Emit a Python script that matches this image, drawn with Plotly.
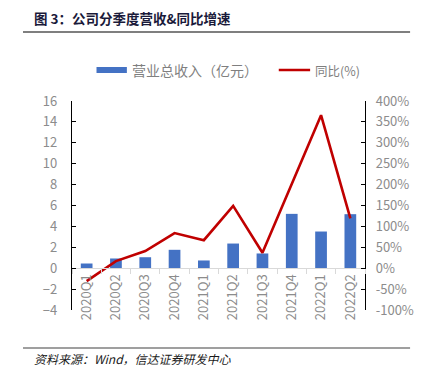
import plotly.graph_objects as go

categories = ["2020Q1", "2020Q2", "2020Q3", "2020Q4", "2021Q1", "2021Q2",
              "2021Q3", "2021Q4", "2022Q1", "2022Q2"]
revenue = [0.45, 0.93, 1.05, 1.76, 0.74, 2.36, 1.41, 5.2, 3.51, 5.17]
yoy = [-31, 17, 41, 84, 67, 149, 37, 201, 366, 119]

left_ticks = list(range(-4, 17, 2))
right_ticks = list(range(-100, 401, 50))

# page has an 8px body margin; size the figure so it ends at the window edge
OFF = 8
W, H = 426 - OFF, 377 - OFF
L, R, T, B = 72 - OFF, 371 - OFF, 101 - OFF, 310 - OFF


def px(x):
    return (x - OFF - L) / (R - L)


def py(y):
    return (B - (y - OFF)) / (B - T)


num_font = "Liberation Sans Narrow, Arial Narrow, Noto Sans CJK SC, sans-serif"
cjk_font = "Noto Sans CJK SC, sans-serif"

fig = go.Figure()
fig.add_trace(go.Bar(x=categories, y=revenue, name="营业总收入（亿元）",
                     marker=dict(color="#4472C4", line=dict(width=0)),
                     yaxis="y"))
fig.add_trace(go.Scatter(x=categories, y=yoy, name="同比(%)", mode="lines",
                         line=dict(color="#C00000", width=2.6),
                         yaxis="y2"))

zero_pos = (0 - left_ticks[0]) / (left_ticks[-1] - left_ticks[0])

fig.update_layout(
    width=W, height=H,
    margin=dict(l=L, r=W - R, t=T, b=H - B, pad=0),
    paper_bgcolor="white", plot_bgcolor="white",
    showlegend=False,
    bargap=0.6,
    xaxis=dict(type="category", anchor="free", position=zero_pos,
               showline=True, linecolor="#d9d9d9", linewidth=1,
               ticks="outside", tickson="boundaries", ticklen=5,
               tickcolor="#d9d9d9", tickangle=-90,
               tickfont=dict(family=num_font, size=13, color="#8c8c8c"),
               showgrid=False, zeroline=False),
    yaxis=dict(range=[-4, 16], tickvals=left_ticks, showline=True,
               linecolor="black", linewidth=1.2, ticks="inside", ticklen=4,
               tickcolor="black", showgrid=False, zeroline=False,
               ticklabelstandoff=11,
               tickfont=dict(family=num_font, size=13, color="#8c8c8c")),
    yaxis2=dict(range=[-100, 400], tickvals=right_ticks,
                ticktext=[f"{v}%" for v in right_ticks],
                overlaying="y", side="right", showline=True,
                linecolor="black", linewidth=1.2, ticks="inside", ticklen=4,
                tickcolor="black", showgrid=False, zeroline=False,
                ticklabelstandoff=7,
                tickfont=dict(family=num_font, size=13, color="#8c8c8c")),
)

shapes = [
    dict(type="line", xref="paper", yref="paper", x0=px(22), x1=px(417),
         y0=py(32), y1=py(32), line=dict(color="#7f7f7f", width=2)),
    dict(type="line", xref="paper", yref="paper", x0=px(22), x1=px(417),
         y0=py(348), y1=py(348), line=dict(color="#7f7f7f", width=1.5)),
    dict(type="rect", xref="paper", yref="paper", x0=px(97), x1=px(128),
         y0=py(73), y1=py(67), fillcolor="#4472C4", line=dict(width=0)),
    dict(type="line", xref="paper", yref="paper", x0=px(283), x1=px(315),
         y0=py(70), y1=py(70), line=dict(color="#C00000", width=2.6)),
]
fig.update_layout(shapes=shapes)

annotations = [
    dict(text="<b>图 3：公司分季度营收&同比增速</b>", xref="paper", yref="paper",
         x=px(31), y=py(18), xanchor="left", yanchor="middle", showarrow=False,
         font=dict(family=cjk_font, size=13.5, color="#1a1a3a")),
    dict(text="营业总收入（亿元）", xref="paper", yref="paper",
         x=px(131), y=py(70), xanchor="left", yanchor="middle", showarrow=False,
         font=dict(family=cjk_font, size=14, color="#7f7f7f")),
    dict(text="同比(%)", xref="paper", yref="paper",
         x=px(318), y=py(70), xanchor="left", yanchor="middle", showarrow=False,
         font=dict(family=cjk_font, size=12.5, color="#7f7f7f")),
    dict(text="<i>资料来源：Wind，信达证券研发中心</i>", xref="paper", yref="paper",
         x=px(31), y=py(358), xanchor="left", yanchor="middle", showarrow=False,
         font=dict(family=cjk_font, size=12, color="#1a1a1a")),
]
fig.update_layout(annotations=annotations)

fig.write_html("out.html")
